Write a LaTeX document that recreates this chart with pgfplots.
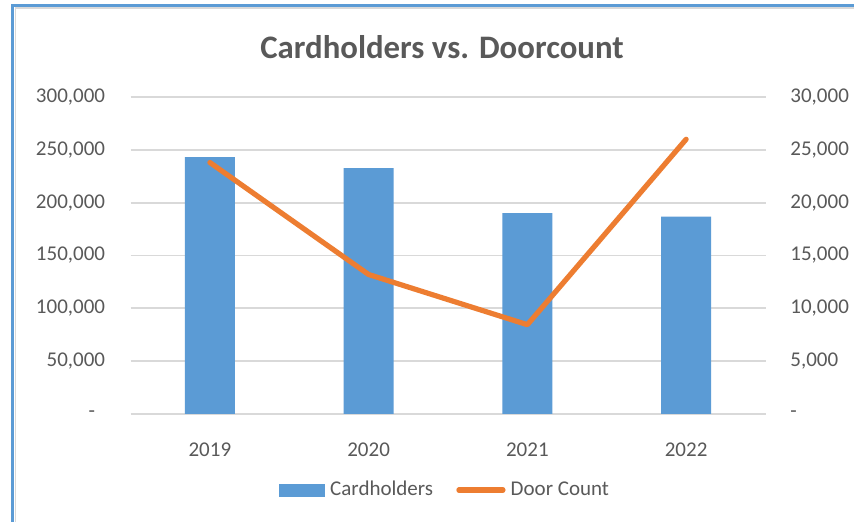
\documentclass[border=0pt]{standalone}
\usepackage{fontspec}
\setmainfont{Carlito}
\usepackage{pgfplots}
\pgfplotsset{compat=1.18}
\definecolor{barblue}{RGB}{91,155,213}
\definecolor{lineorange}{RGB}{237,125,49}
\definecolor{txtgrey}{RGB}{89,89,89}
\definecolor{gridgrey}{RGB}{217,217,217}

\begin{document}
\begin{tikzpicture}[x=1pt,y=1pt]
\fill[white] (0,0) rectangle (427,261);
% left axis: cardholders (bars)
\begin{axis}[
  at={(65.25pt,54pt)}, anchor=south west,
  scale only axis, width=317.5pt, height=158.5pt,
  xmin=-0.5, xmax=3.5, ymin=0, ymax=300000,
  ybar, bar width=25pt,
  xtick={0,1,2,3}, xticklabels={2019,2020,2021,2022},
  ytick={0,50000,100000,150000,200000,250000,300000},
  yticklabels={{-\hspace*{5pt}},{50,000},{100,000},{150,000},{200,000},{250,000},{300,000}},
  scaled y ticks=false,
  axis line style={draw=none},
  tick style={draw=none},
  ymajorgrids, grid style={gridgrey, line width=0.875pt},
  tick label style={font=\fontsize{10.5}{12}\selectfont, text=txtgrey},
  yticklabel style={inner sep=0pt, xshift=-12.5pt},
  xticklabel style={inner sep=0pt, yshift=-10pt},
]
\addplot[fill=barblue, draw=none] coordinates {(0,243000) (1,232700) (2,190000) (3,186900)};
\end{axis}
% right axis: door count (line)
\begin{axis}[
  at={(65.25pt,54pt)}, anchor=south west,
  scale only axis, width=317.5pt, height=158.5pt,
  xmin=-0.5, xmax=3.5, ymin=0, ymax=30000,
  axis y line*=right, axis x line=none,
  ytick={0,5000,10000,15000,20000,25000,30000},
  yticklabels={{-},{5,000},{10,000},{15,000},{20,000},{25,000},{30,000}},
  scaled y ticks=false,
  axis line style={draw=none},
  tick style={draw=none},
  tick label style={font=\fontsize{10.5}{12}\selectfont, text=txtgrey},
  yticklabel style={inner sep=0pt, xshift=12.25pt},
  legend style={at={(0.498,-0.24)}, anchor=center, draw=none, fill=none,
    legend columns=2, font=\fontsize{10.5}{12}\selectfont, text=txtgrey,
    nodes={inner sep=2.6pt},
    /tikz/every even column/.append style={column sep=9pt}},
]
\addlegendimage{legend image code/.code={\fill[barblue] (0pt,-3pt) rectangle (22.5pt,3pt);}}
\addlegendentry{Cardholders}
\addplot[lineorange, line width=2.6pt, line join=round, line cap=round,
  legend image code/.code={\draw[lineorange, line width=2.6pt, line cap=round] (1.5pt,0pt) -- (23.5pt,0pt);}]
  coordinates {(0,23800) (1,13200) (2,8450) (3,26000)};
\addlegendentry{Door Count}
\end{axis}
\node[font=\fontsize{16.4}{19}\selectfont\bfseries, text=txtgrey] at (221,237.5) {Cardholders vs. Doorcount};
\draw[gridgrey, line width=0.6pt] (7.6,0) -- (7.6,257) -- (427,257);
\draw[barblue, line width=1.5pt] (6.25,0) -- (6.25,258.25) -- (427,258.25);
\pgfresetboundingbox
\path[use as bounding box] (0,0) rectangle (427,261);
\end{tikzpicture}
\end{document}
